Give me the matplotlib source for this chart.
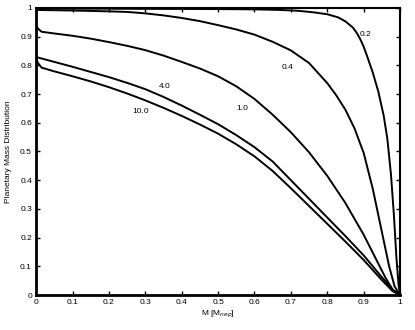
import matplotlib
matplotlib.use("Agg")
import matplotlib.pyplot as plt

plt.rcParams['font.family'] = ['Liberation Sans', 'DejaVu Sans']

# Curves (x = M [M_nep], y = distribution)
x_02 = [0.0, 0.5, 0.6, 0.67, 0.72, 0.76, 0.8, 0.83, 0.85, 0.87, 0.88, 0.89, 0.9, 0.91, 0.925, 0.94, 0.955, 0.965, 0.975, 0.983, 0.99, 0.996, 1.0]
y_02 = [0.998, 0.996, 0.995, 0.993, 0.99, 0.985, 0.978, 0.967, 0.953, 0.932, 0.915, 0.893, 0.865, 0.83, 0.775, 0.71, 0.625, 0.545, 0.42, 0.28, 0.13, 0.035, 0.0]

x_04 = [0.0, 0.1, 0.2, 0.25, 0.3, 0.35, 0.4, 0.45, 0.5, 0.55, 0.6, 0.65, 0.7, 0.75, 0.8, 0.825, 0.85, 0.875, 0.9, 0.925, 0.95, 0.97, 0.985, 1.0]
y_04 = [0.993, 0.991, 0.988, 0.986, 0.981, 0.974, 0.965, 0.954, 0.94, 0.925, 0.907, 0.882, 0.852, 0.808, 0.738, 0.695, 0.645, 0.58, 0.495, 0.37, 0.22, 0.10, 0.03, 0.0]

x_10 = [0.0, 0.005, 0.015, 0.05, 0.1, 0.15, 0.2, 0.25, 0.3, 0.35, 0.4, 0.45, 0.5, 0.55, 0.6, 0.65, 0.7, 0.75, 0.8, 0.85, 0.9, 0.93, 0.96, 0.98, 1.0]
y_10 = [0.94, 0.928, 0.917, 0.911, 0.903, 0.893, 0.881, 0.868, 0.853, 0.834, 0.812, 0.789, 0.762, 0.727, 0.683, 0.628, 0.567, 0.497, 0.415, 0.32, 0.21, 0.135, 0.06, 0.018, 0.0]

x_40 = [0.0, 0.05, 0.1, 0.15, 0.2, 0.25, 0.3, 0.35, 0.4, 0.45, 0.5, 0.55, 0.6, 0.65, 0.7, 0.75, 0.8, 0.85, 0.9, 0.95, 0.98, 1.0]
y_40 = [0.829, 0.812, 0.795, 0.777, 0.759, 0.739, 0.717, 0.69, 0.66, 0.628, 0.595, 0.557, 0.515, 0.465, 0.40, 0.335, 0.27, 0.205, 0.138, 0.062, 0.018, 0.0]

x_100 = [0.0, 0.005, 0.015, 0.05, 0.1, 0.15, 0.2, 0.25, 0.3, 0.35, 0.4, 0.45, 0.5, 0.55, 0.6, 0.65, 0.7, 0.75, 0.8, 0.85, 0.9, 0.95, 0.98, 1.0]
y_100 = [0.826, 0.808, 0.792, 0.779, 0.762, 0.744, 0.724, 0.702, 0.678, 0.652, 0.624, 0.594, 0.562, 0.525, 0.483, 0.432, 0.372, 0.31, 0.248, 0.186, 0.122, 0.052, 0.013, 0.0]

series = [(x_02, y_02), (x_04, y_04), (x_10, y_10), (x_40, y_40), (x_100, y_100)]
labels = ["0.2", "0.4", "1.0", "4.0", "10.0"]
label_pos = [(0.904, 0.906), (0.692, 0.791), (0.566, 0.648), (0.354, 0.725), (0.286, 0.638)]

ticks = [0, 0.1, 0.2, 0.3, 0.4, 0.5, 0.6, 0.7, 0.8, 0.9, 1]
tick_labels = ["0", "0.1", "0.2", "0.3", "0.4", "0.5", "0.6", "0.7", "0.8", "0.9", "1"]

fig = plt.figure(figsize=(4.15, 3.3), dpi=100)
ax = fig.add_axes([0.087, 0.106, 0.877, 0.87])

for (xs, ys) in series:
    ax.plot(xs, ys, color="black", lw=1.4, solid_joinstyle="round")

for lab, (lx, ly) in zip(labels, label_pos):
    ax.text(lx, ly, lab, fontsize=6, ha="center", va="center", color="black")

ax.set_xlim(0, 1)
ax.set_ylim(0, 1)
ax.set_xticks(ticks)
ax.set_xticklabels(tick_labels)
ax.set_yticks(ticks)
ax.set_yticklabels(tick_labels)
ax.tick_params(direction="in", length=3, width=1, labelsize=6, top=True, right=True, pad=3)
for side in ["left", "bottom"]:
    ax.spines[side].set_linewidth(2.0)
for side in ["top", "right"]:
    ax.spines[side].set_linewidth(1.5)

ax.set_xlabel("M [M$_{nep}$]", fontsize=6, labelpad=2)
ax.set_ylabel("Planetary Mass Distribution", fontsize=6, labelpad=6)

fig.savefig("out.png", dpi=100)
